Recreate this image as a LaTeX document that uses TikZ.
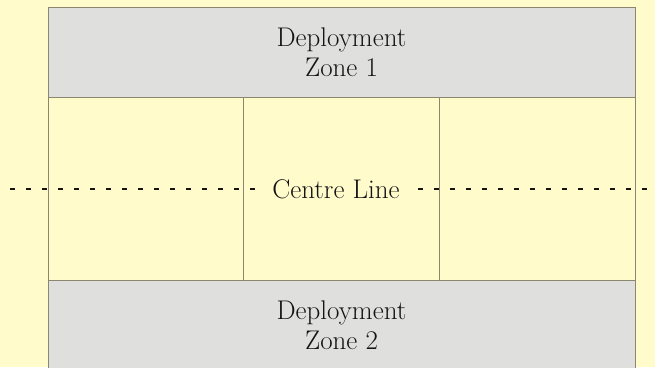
\documentclass[tikz,border=0pt]{standalone}
\definecolor{paper}{HTML}{FFFBCB}
\definecolor{zonegrey}{HTML}{DFDFDD}
\definecolor{frame}{HTML}{8A8670}
\definecolor{ink}{HTML}{141414}
\tikzset{
  zone/.style={draw=frame, fill=zonegrey, line width=1pt, minimum width=587pt,
    minimum height=90pt, inner sep=0pt, align=center, text=ink,
    font=\fontsize{27}{30}\selectfont},
  cell/.style={draw=frame, fill=paper, line width=1pt, minimum height=183pt,
    inner sep=0pt},
  centreline/.style={draw=ink, line width=2pt, dash pattern=on 5pt off 11pt, dash phase=6pt},
  label/.style={text=ink, inner xsep=8pt, inner ysep=0pt, font=\fontsize{27}{30}\selectfont}
}
\begin{document}
\begin{tikzpicture}[x=1pt,y=-1pt]
  \useasboundingbox[fill=paper] (0,0) rectangle (655,367);
  % deployment zones
  \node[zone] (zoneA) at (341.5,52) {Deployment\\Zone 1};
  \node[zone] (zoneB) at (341.5,325) {Deployment\\Zone 2};
  % the three middle sectors
  \node[cell, minimum width=195pt] (left) at (145.5,188.5) {};
  \node[cell, minimum width=196pt] (mid) at (341,188.5) {};
  \node[cell, minimum width=196pt] (right) at (537,188.5) {};
  % centre line
  \node[label] (cl) at (336,189) {Centre Line};
  \coordinate (lend) at (0,189);
  \coordinate (rend) at (655,189);
  \draw[centreline] (lend) -- (cl.west);
  \draw[centreline] (cl.east) -- (rend);
\end{tikzpicture}
\end{document}
